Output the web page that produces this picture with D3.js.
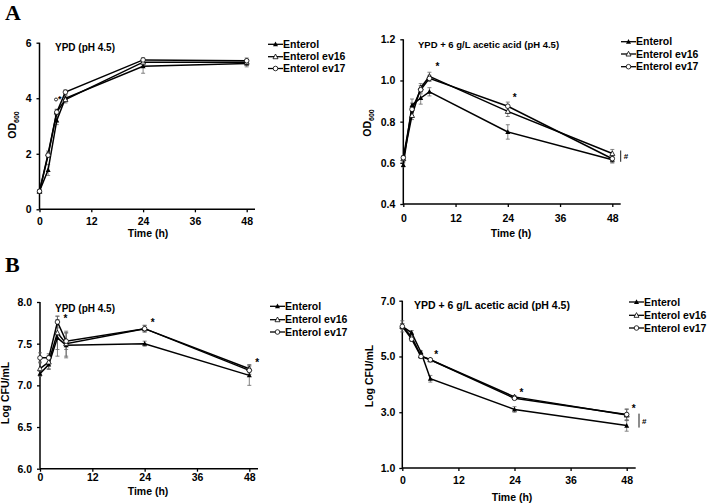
<!DOCTYPE html>
<html><head><meta charset="utf-8">
<script src="https://cdn.jsdelivr.net/npm/d3@7"></script>
<style>body{margin:0;background:#fff}svg{display:block}text{font-family:"Liberation Sans",Arial,sans-serif;font-weight:bold}</style>
</head><body><svg id="c" width="708" height="504"></svg>
<script>
const times = [0, 2, 4, 6, 24, 48];
const seriesNames = ["Enterol", "Enterol ev16", "Enterol ev17"];
const xTicks = [0, 12, 24, 36, 48];

// Panel A left: OD600 in YPD
const odYpdEnterol = [0.65, 1.42, 3.2, 4.0, 5.15, 5.25];
const odYpdEv16    = [0.65, 2.0, 3.5, 3.95, 5.3, 5.3];
const odYpdEv17    = [0.65, 1.95, 3.5, 4.22, 5.38, 5.35];
const odYpdErrEnterol = [0.05, 0.2, 0.15, 0.1, 0.25, 0.12];
const odYpdErrEv16    = [0.05, 0.1, 0.1, 0.12, 0.1, 0.1];
const odYpdErrEv17    = [0.05, 0.08, 0.1, 0.08, 0.08, 0.1];
const odYpdTicks = [0, 2, 4, 6];

// Panel A right: OD600 in YPD + acetic acid
const odAcEnterol = [0.59, 0.88, 0.915, 0.945, 0.75, 0.615];
const odAcEv16    = [0.62, 0.83, 0.965, 1.02, 0.85, 0.645];
const odAcEv17    = [0.625, 0.86, 0.955, 1.01, 0.875, 0.62];
const odAcErrEnterol = [0.01, 0.03, 0.03, 0.02, 0.035, 0.015];
const odAcErrEv16    = [0.01, 0.02, 0.02, 0.02, 0.025, 0.02];
const odAcErrEv17    = [0.01, 0.03, 0.02, 0.015, 0.02, 0.02];
const odAcTicks = [0.4, 0.6, 0.8, 1.0, 1.2];

// Panel B left: Log CFU/mL in YPD
const cfuYpdEnterol = [7.14, 7.25, 7.57, 7.48, 7.5, 7.12];
const cfuYpdEv16    = [7.2, 7.28, 7.63, 7.5, 7.68, 7.2];
const cfuYpdEv17    = [7.33, 7.33, 7.76, 7.53, 7.68, 7.18];
const cfuYpdErrEnterol = [0.03, 0.06, 0.22, 0.15, 0.03, 0.12];
const cfuYpdErrEv16    = [0.08, 0.08, 0.2, 0.15, 0.04, 0.05];
const cfuYpdErrEv17    = [0.06, 0.05, 0.07, 0.1, 0.04, 0.05];
const cfuYpdTicks = [6.0, 6.5, 7.0, 7.5, 8.0];

// Panel B right: Log CFU/mL in YPD + acetic acid
const cfuAcEnterol = [6.08, 5.85, 5.15, 4.2, 3.1, 2.52];
const cfuAcEv16    = [6.08, 5.7, 5.02, 4.88, 3.55, 2.9];
const cfuAcEv17    = [6.08, 5.62, 5.0, 4.88, 3.5, 2.92];
const cfuAcErrEnterol = [0.2, 0.08, 0.05, 0.12, 0.1, 0.2];
const cfuAcErrEv16    = [0.1, 0.08, 0.05, 0.05, 0.05, 0.2];
const cfuAcErrEv17    = [0.1, 0.08, 0.05, 0.05, 0.05, 0.2];
const cfuAcTicks = [1.0, 3.0, 5.0, 7.0];

const svg = d3.select("#c");

function tri(cx, cy, s) {
  const h = s * 0.9;
  return `M${cx},${cy - h*0.6}L${cx + s/2},${cy + h*0.45}L${cx - s/2},${cy + h*0.45}Z`;
}
function marker(g, type, cx, cy) {
  if (type === 0) g.append("path").attr("d", tri(cx, cy, 5)).attr("fill", "#000");
  else if (type === 1) g.append("path").attr("d", tri(cx, cy, 5)).attr("fill", "#fff").attr("stroke", "#000").attr("stroke-width", 0.8);
  else g.append("circle").attr("cx", cx).attr("cy", cy).attr("r", 2.3).attr("fill", "#fff").attr("stroke", "#000").attr("stroke-width", 0.8);
}

function panel(cfg) {
  const x = d3.scaleLinear().domain([0, 48]).range([cfg.x0, cfg.x48]);
  const y = d3.scaleLinear().domain(cfg.yDomain).range(cfg.yRange);
  const g = svg.append("g");
  const ya = g.append("g").attr("transform", `translate(${cfg.x0},0)`)
    .call(d3.axisLeft(y).tickValues(cfg.yTicks).tickFormat(cfg.fmt).tickSize(3).tickSizeOuter(0).tickPadding(cfg.yPad));
  const xa = g.append("g").attr("transform", `translate(0,${cfg.yRange[0]})`)
    .call(d3.axisBottom(x).tickValues(xTicks).tickSize(3).tickSizeOuter(0).tickPadding(cfg.xPad));
  [ya, xa].forEach(a => {
    a.select(".domain").remove();
    a.selectAll("line").attr("stroke", "#000").attr("stroke-width", 1.3);
    a.selectAll("text").attr("font-size", 10.5).attr("fill", "#000")
      .style("font-family", '"Liberation Sans",Arial,sans-serif').style("font-weight", "bold");
  });
  g.append("line").attr("x1", cfg.x0).attr("x2", cfg.x0).attr("y1", cfg.yRange[0]).attr("y2", cfg.yRange[1])
    .attr("stroke", "#000").attr("stroke-width", 1.5);
  g.append("line").attr("x1", cfg.x0).attr("x2", cfg.xEnd).attr("y1", cfg.yRange[0]).attr("y2", cfg.yRange[0])
    .attr("stroke", "#000").attr("stroke-width", 1.5);

  const line = d3.line().x((d, i) => x(times[i])).y(d => y(d));
  cfg.series.forEach((vals, si) => {
    const errs = cfg.errs[si];
    const eg = g.append("g").attr("stroke", "#666").attr("stroke-width", 0.8);
    vals.forEach((v, i) => {
      const cx = x(times[i]);
      eg.append("line").attr("x1", cx).attr("x2", cx).attr("y1", y(v - errs[i])).attr("y2", y(v + errs[i]));
      eg.append("line").attr("x1", cx - 2).attr("x2", cx + 2).attr("y1", y(v - errs[i])).attr("y2", y(v - errs[i]));
      eg.append("line").attr("x1", cx - 2).attr("x2", cx + 2).attr("y1", y(v + errs[i])).attr("y2", y(v + errs[i]));
    });
  });
  cfg.series.forEach((vals) => {
    g.append("path").datum(vals).attr("d", line).attr("fill", "none").attr("stroke", "#000").attr("stroke-width", 1.5);
  });
  cfg.series.forEach((vals, si) => {
    vals.forEach((v, i) => marker(g, si, x(times[i]), y(v)));
  });

  g.append("text").attr("x", cfg.titleX).attr("y", cfg.titleY).attr("font-size", cfg.titleSize).text(cfg.title);
  g.append("text").attr("x", cfg.xlabX).attr("y", cfg.xlabY).attr("text-anchor", "middle").attr("font-size", 10.5).text("Time (h)");
  const yl = g.append("text").attr("transform", `translate(${cfg.ylabX},${cfg.ylabY}) rotate(-90)`)
    .attr("text-anchor", "middle").attr("font-size", 10.5);
  if (cfg.od) {
    yl.append("tspan").text("OD");
    yl.append("tspan").attr("font-size", 7).attr("dy", 3).text("600");
  } else yl.text("Log CFU/mL");
  seriesNames.forEach((n, i) => {
    const ly = cfg.legY[i];
    g.append("line").attr("x1", cfg.legX).attr("x2", cfg.legX + 15).attr("y1", ly).attr("y2", ly).attr("stroke", "#000").attr("stroke-width", 1.3);
    marker(g, i, cfg.legX + 7.5, ly);
    g.append("text").attr("x", cfg.legX + 15).attr("y", ly + 3.7).attr("font-size", 10.5).text(n);
  });
  (cfg.stars || []).forEach(s => {
    g.append("text").attr("x", x(s[0]) + s[2]).attr("y", y(s[1])).attr("font-size", 10).text("*");
  });
  if (cfg.hash) {
    const h = cfg.hash;
    g.append("line").attr("x1", h.x).attr("x2", h.x).attr("y1", y(h.v1)).attr("y2", y(h.v2)).attr("stroke", "#000").attr("stroke-width", 0.9);
    g.append("text").attr("x", h.x + 3).attr("y", (y(h.v1) + y(h.v2)) / 2 + 3).attr("font-size", 8).text("#");
  }
  return {x, y, g};
}

const fmt1 = d3.format(".1f");

const pA1 = panel({x0: 39.5, x48: 246.7, xEnd: 255, yDomain: [0, 6], yRange: [209.3, 42.7], yTicks: odYpdTicks, fmt: d3.format("d"),
  yPad: 5, xPad: 5,
  series: [odYpdEnterol, odYpdEv16, odYpdEv17], errs: [odYpdErrEnterol, odYpdErrEv16, odYpdErrEv17],
  title: "YPD (pH 4.5)", titleX: 55, titleY: 50.5, titleSize: 10, xlabX: 148, xlabY: 237, ylabX: 16, ylabY: 125, od: true,
  legX: 268, legY: [44.3, 56.7, 68.5]});
pA1.g.append("circle").attr("cx", 56).attr("cy", 99.5).attr("r", 1.5).attr("fill", "none").attr("stroke", "#000").attr("stroke-width", 0.8);
pA1.g.append("text").attr("x", 58).attr("y", 101.5).attr("font-size", 9).text("*");

panel({x0: 403.3, x48: 612.3, xEnd: 620.7, yDomain: [0.4, 1.2], yRange: [204, 39.3], yTicks: odAcTicks, fmt: fmt1,
  yPad: 5, xPad: 8,
  series: [odAcEnterol, odAcEv16, odAcEv17], errs: [odAcErrEnterol, odAcErrEv16, odAcErrEv17],
  title: "YPD + 6 g/L acetic acid (pH 4.5)", titleX: 418, titleY: 47.5, titleSize: 9.5, xlabX: 511, xlabY: 237, ylabX: 371, ylabY: 123, od: true,
  legX: 621, legY: [41.7, 54, 66.7],
  stars: [[6, 1.05, 6], [24, 0.9, 5]],
  hash: {x: 620.7, v1: 0.66, v2: 0.605}});

panel({x0: 40, x48: 249.3, xEnd: 258, yDomain: [6, 8], yRange: [468.7, 302], yTicks: cfuYpdTicks, fmt: fmt1,
  yPad: 5, xPad: 2,
  series: [cfuYpdEnterol, cfuYpdEv16, cfuYpdEv17], errs: [cfuYpdErrEnterol, cfuYpdErrEv16, cfuYpdErrEv17],
  title: "YPD (pH 4.5)", titleX: 55, titleY: 311.5, titleSize: 10, xlabX: 148, xlabY: 495, ylabX: 9, ylabY: 393, od: false,
  legX: 270, legY: [306.3, 319.7, 332],
  stars: [[4, 7.76, 6], [24, 7.71, 6], [48, 7.23, 6]]});

panel({x0: 402.3, x48: 626.7, xEnd: 635.7, yDomain: [1, 7], yRange: [468, 300.7], yTicks: cfuAcTicks, fmt: fmt1,
  yPad: 4, xPad: 6,
  series: [cfuAcEnterol, cfuAcEv16, cfuAcEv17], errs: [cfuAcErrEnterol, cfuAcErrEv16, cfuAcErrEv17],
  title: "YPD + 6 g/L acetic acid (pH 4.5)", titleX: 414, titleY: 309, titleSize: 10.5, xlabX: 512, xlabY: 501, ylabX: 373, ylabY: 376, od: false,
  legX: 629, legY: [302, 315.3, 328],
  stars: [[6, 4.95, 4], [24, 3.6, 5], [48, 3.0, 5]],
  hash: {x: 639, v1: 2.95, v2: 2.45}});

svg.append("text").attr("x", 5).attr("y", 20).attr("font-size", 22).style("font-family", '"Liberation Serif","Times New Roman",serif').text("A");
svg.append("text").attr("x", 5).attr("y", 272).attr("font-size", 22).style("font-family", '"Liberation Serif","Times New Roman",serif').text("B");
</script></body></html>
